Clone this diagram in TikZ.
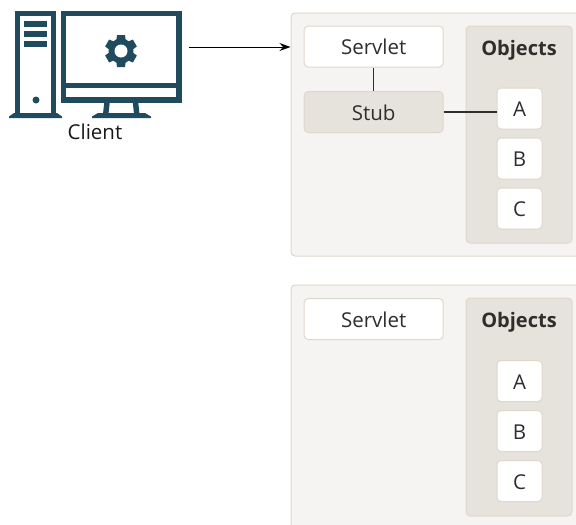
\documentclass[tikz,border=0pt]{standalone}
\usepackage{fontspec}
\setmainfont{Open Sans}
\usetikzlibrary{arrows.meta}
\definecolor{panelfill}{HTML}{F5F4F2}
\definecolor{panelline}{HTML}{DFD7CC}
\definecolor{groupfill}{HTML}{E6E2DC}
\definecolor{inktext}{HTML}{312D2A}
\definecolor{icon}{HTML}{204B5F}
\tikzset{
  x=1pt,y=-1pt,
  boxbase/.style={draw=panelline,line width=1pt,rounded corners=4pt,inner sep=0pt,text=inktext,text height=17pt,text depth=0.5pt,font=\fontsize{20.5}{24}\selectfont},
  panel/.style={boxbase,fill=panelfill,minimum width=300pt},
  group/.style={boxbase,fill=groupfill,minimum width=106pt},
  wide/.style={boxbase,fill=white,minimum width=139pt,minimum height=41pt},
  stubbox/.style={wide,fill=groupfill},
  small/.style={boxbase,fill=white,minimum width=45pt,minimum height=41pt},
  head/.style={inner sep=0pt,text=inktext,font=\fontsize{20}{24}\selectfont\bfseries},
  link/.style={draw=inktext,line width=1.2pt},
  iconline/.style={draw=icon,line width=5.5pt,fill=white,miter limit=10},
  iconfill/.style={fill=icon,draw=none},
}
\begin{document}
\begin{tikzpicture}
\useasboundingbox (0,0) rectangle (576,525);
\clip (0,0) rectangle (576,525);
% panels
\node[panel,minimum height=243pt] (panelA) at (441,134.5) {};
\node[panel,minimum height=260pt] (panelB) at (441,415) {};
% upper panel
\node[group,minimum height=217pt] (objA) at (519,134.5) {};
\node[head] at (519,50) {Objects};
\node[wide] (servA) at (373.7,46.5) {Servlet};
\node[stubbox] (stub) at (373.7,112) {Stub};
\node[small] (a1) at (519.5,108.5) {A};
\node[small] (b1) at (519.5,158.5) {B};
\node[small] (c1) at (519.5,208.5) {C};
\draw[link] (servA) -- (stub);
\draw[link] (stub) -- (stub -| a1.west);
% lower panel
\node[group,minimum height=218pt] (objB) at (519,407) {};
\node[head] at (519,322.5) {Objects};
\node[wide] (servB) at (373.7,319) {Servlet};
\node[small] (a2) at (519.5,381) {A};
\node[small] (b2) at (519.5,431) {B};
\node[small] (c2) at (519.5,481) {C};
% tower
\draw[iconline] (17.5,115) -- (17.5,13.7) -- (53.5,13.7) -- (53.5,115);
\fill[iconfill] (9,118) -- (9,116.5) -- (14,113) -- (57,113) -- (62,116.5) -- (62,118) -- cycle;
\fill[iconfill] (24,21) rectangle (47,27);
\fill[iconfill] (24,31) rectangle (47,37);
\fill[iconfill] (24,41) rectangle (47,47);
\fill[iconfill] (36,100) circle (3.5);
% monitor
\fill[iconfill] (104.5,100) -- (110,100) -- (108.5,114) -- (103,114) -- cycle;
\fill[iconfill] (132.5,100) -- (138,100) -- (139.5,114) -- (134,114) -- cycle;
\fill[iconfill] (92,118) -- (92,116.5) -- (98,113) -- (145,113) -- (151,116.5) -- (151,118) -- cycle;
\draw[iconline] (63.7,13.7) rectangle (178.8,99.8);
\fill[iconfill] (64,82.5) rectangle (178,88);
% gear
\foreach \a in {0,60,...,300}{
  \fill[iconfill,rotate around={\a:(121,51)}] (117,35) -- (125,35) -- (126,43) -- (116,43) -- cycle;
}
\fill[iconfill] (121,51) circle (12.5);
\fill[white] (121,51) circle (6.5);
\node[inner sep=0pt,text=black!90,font=\fontsize{20.5}{24}\selectfont] (client) at (95,132) {Client};
% connector
\coordinate (start) at (189,47);
\draw[draw=black,line width=1pt,-{Stealth[length=11pt,width=8pt]}] (start) -- (start -| panelA.west);
\end{tikzpicture}
\end{document}
